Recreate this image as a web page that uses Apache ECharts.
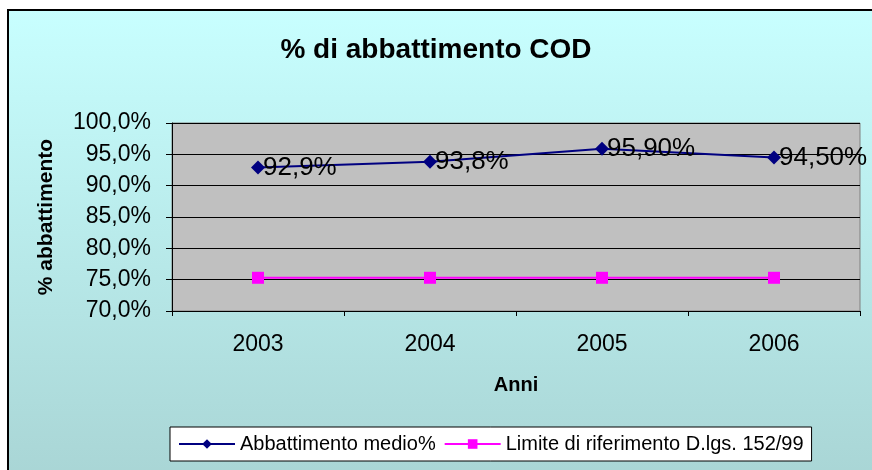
<!DOCTYPE html>
<html>
<head>
<meta charset="utf-8">
<script src="https://cdn.jsdelivr.net/npm/echarts@6/dist/echarts.min.js"></script>
<style>
  html, body { margin: 0; padding: 0; background: #ffffff; }
  #chart { width: 872px; height: 470px; }
</style>
</head>
<body>
<div id="chart"></div>
<script>
// dati
const anni = ["2003", "2004", "2005", "2006"];
const abbattimento = [92.9, 93.8, 95.9, 94.5];
const etichette = ["92,9%", "93,8%", "95,90%", "94,50%"];
const limite = [75.3, 75.3, 75.3, 75.3];

const chart = echarts.init(document.getElementById("chart"));

const fmtAsse = (v) => v.toFixed(1).replace(".", ",") + "%";

const option = {
    animation: false,
    textStyle: { fontFamily: "Liberation Sans, Arial, sans-serif" },
    graphic: [
        {
            type: "rect",
            z: -10,
            shape: { x: 8, y: 10, width: 880, height: 480 },
            style: {
                fill: new echarts.graphic.LinearGradient(0, 0, 0, 1, [
                    { offset: 0, color: "#c8ffff" },
                    { offset: 1, color: "#a8d4d4" },
                ]),
                stroke: "#000000",
                lineWidth: 2,
            },
        },
    ],
    title: {
        text: "% di abbattimento COD",
        left: "center",
        top: 31,
        textStyle: { fontSize: 28, fontWeight: "bold", color: "#000" },
    },
    legend: {
        left: 170,
        top: 427,
        padding: [7, 8],
        itemGap: 8,
        itemWidth: 56,
        itemHeight: 12,
        backgroundColor: "#ffffff",
        borderColor: "#000000",
        borderWidth: 1,
        textStyle: { fontSize: 20, color: "#000" },
        data: ["Abbattimento medio%", "Limite di riferimento D.lgs. 152/99"],
    },
    grid: {
        left: 172,
        right: 12,
        top: 123,
        bottom: 159,
        show: true,
        backgroundColor: "#c0c0c0",
        borderColor: "#808080",
        borderWidth: 1,
    },
    xAxis: {
        type: "category",
        data: anni,
        boundaryGap: true,
        name: "Anni",
        nameLocation: "middle",
        nameGap: 64,
        nameTextStyle: { fontSize: 20, fontWeight: "bold", color: "#000" },
        axisLine: { lineStyle: { color: "#000", width: 1 } },
        axisTick: { show: true, length: 5, lineStyle: { color: "#000" } },
        axisLabel: { fontSize: 23, color: "#000", margin: 22 },
    },
    yAxis: {
        type: "value",
        min: 70,
        max: 100,
        interval: 5,
        name: "% abbattimento",
        nameLocation: "middle",
        nameGap: 115,
        nameTextStyle: { fontSize: 21, fontWeight: "bold", color: "#000" },
        axisLine: { show: true, lineStyle: { color: "#000", width: 1 } },
        axisTick: { show: true, length: 6, lineStyle: { color: "#000" } },
        axisLabel: { fontSize: 23, color: "#000", margin: 21, formatter: fmtAsse },
        splitLine: { show: true, lineStyle: { color: "#000", width: 1 } },
    },
    series: [
        {
            name: "Abbattimento medio%",
            type: "line",
            data: abbattimento,
            symbol: "diamond",
            symbolSize: 14,
            color: "#000080",
            lineStyle: { color: "#000080", width: 2 },
            itemStyle: { color: "#000080" },
            label: {
                show: true,
                position: "right",
                distance: -2,
                fontSize: 26,
                color: "#000",
                formatter: (p) => etichette[p.dataIndex],
            },
        },
        {
            name: "Limite di riferimento D.lgs. 152/99",
            type: "line",
            data: limite,
            symbol: "rect",
            symbolSize: 12,
            color: "#ff00ff",
            lineStyle: { color: "#ff00ff", width: 2 },
            itemStyle: { color: "#ff00ff" },
        },
    ],
};

chart.setOption(option);
</script>
</body>
</html>
